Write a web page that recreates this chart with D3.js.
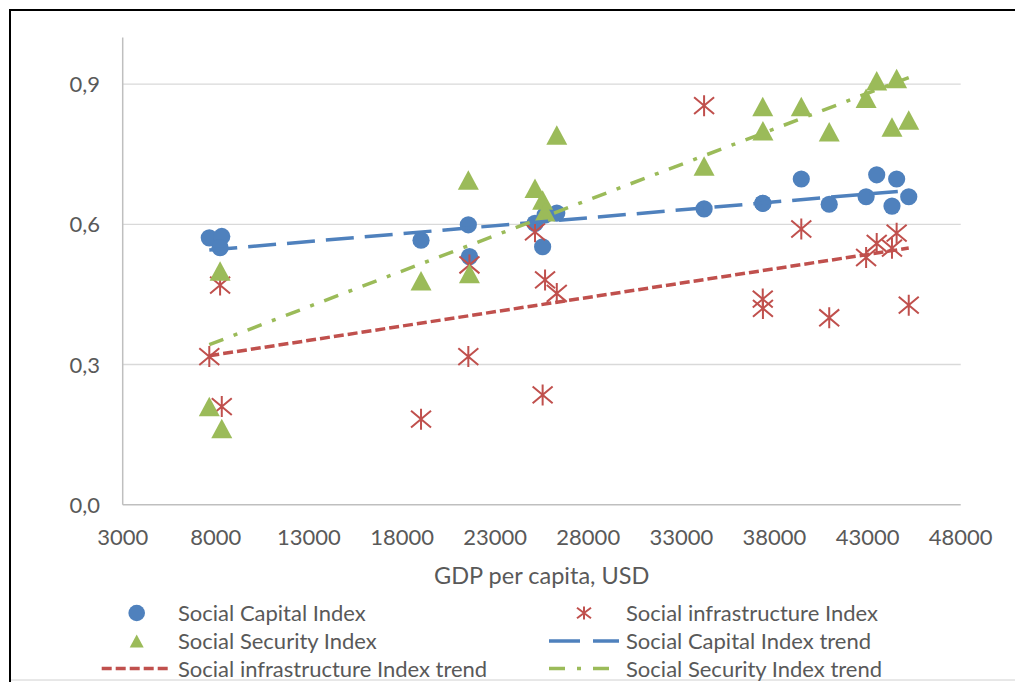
<!DOCTYPE html>
<html>
<head>
<meta charset="utf-8">
<script src="https://cdn.jsdelivr.net/npm/d3@7"></script>
<style>
  body { margin: 0; background: #fff; }
  text { font-family: Lato, "Open Sans", sans-serif; fill: #595959; }
</style>
</head>
<body>
<div id="chart"></div>
<script>
// GDP per capita of each country, and the three indices
var gdp      = [7650, 8320, 8230, 19020, 21560, 21620, 25140, 25550, 25680, 26310,
                34220, 37370, 37380, 39440, 40940, 42920, 43490, 44310, 44560, 45210];
var capital  = [0.571, 0.574, 0.550, 0.566, 0.599, 0.531, 0.602, 0.552, 0.620, 0.624,
                0.633, 0.645, 0.645, 0.697, 0.643, 0.659, 0.706, 0.639, 0.697, 0.659];
var infra    = [0.317, 0.210, 0.470, 0.183, 0.317, 0.513, 0.584, 0.235, 0.481, 0.452,
                0.854, 0.440, 0.420, 0.590, 0.400, 0.529, 0.559, 0.549, 0.581, 0.427];
var security = [0.210, 0.163, 0.500, 0.479, 0.695, 0.495, 0.677, 0.652, 0.627, 0.791,
                0.725, 0.852, 0.800, 0.852, 0.798, 0.870, 0.907, 0.808, 0.912, 0.823];

var xTicks = [3000, 8000, 13000, 18000, 23000, 28000, 33000, 38000, 43000, 48000];
var yTicks = [0, 0.3, 0.6, 0.9];
var xTitle = 'GDP per capita, USD';

var blue = '#4F81BD', red = '#C0504D', green = '#9BBB59';

var svg = d3.select('#chart').append('svg')
  .attr('width', 1015)
  .attr('height', 682);

// outer frame
svg.append('rect')
  .attr('x', 10).attr('y', 10)
  .attr('width', 1030).attr('height', 720)
  .attr('fill', 'none')
  .attr('stroke', '#000')
  .attr('stroke-width', 2);
svg.append('line')
  .attr('x1', 11).attr('x2', 1015)
  .attr('y1', 680).attr('y2', 680)
  .attr('stroke', '#d0d0d0');

var x = d3.scaleLinear().domain([3000, 48000]).range([122.7, 960.7]);
var y = d3.scaleLinear().domain([0, 1]).range([504.7, 37.4]);

// gridlines
svg.selectAll('line.grid').data(yTicks.slice(1))
  .enter().append('line')
  .attr('class', 'grid')
  .attr('x1', x(3000)).attr('x2', x(48000))
  .attr('y1', function (d) { return y(d); })
  .attr('y2', function (d) { return y(d); })
  .attr('stroke', '#D9D9D9')
  .attr('stroke-width', 1.3);

// axis lines
svg.append('line')
  .attr('x1', x(3000)).attr('x2', x(48000))
  .attr('y1', y(0)).attr('y2', y(0))
  .attr('stroke', '#BFBFBF').attr('stroke-width', 1.5);
svg.append('line')
  .attr('x1', x(3000)).attr('x2', x(3000))
  .attr('y1', y(0)).attr('y2', y(1))
  .attr('stroke', '#BFBFBF').attr('stroke-width', 1.5);

// tick labels
var fmtY = function (d) { return d3.format('.1f')(d).replace('.', ','); };
svg.selectAll('text.ytick').data(yTicks)
  .enter().append('text')
  .attr('class', 'ytick')
  .attr('x', 100)
  .attr('y', function (d) { return y(d) + 8; })
  .attr('text-anchor', 'end')
  .style('font-size', '22px')
  .text(fmtY);

svg.selectAll('text.xtick').data(xTicks)
  .enter().append('text')
  .attr('class', 'xtick')
  .attr('x', function (d) { return x(d); })
  .attr('y', 545)
  .attr('text-anchor', 'middle')
  .style('font-size', '22px')
  .text(function (d) { return d; });

svg.append('text')
  .attr('x', (x(3000) + x(48000)) / 2)
  .attr('y', 584)
  .attr('text-anchor', 'middle')
  .style('font-size', '23.5px')
  .text(xTitle);

// marker shapes
var star = function (w, h) {
  var a = w / 2, b = h / 2;
  return 'M0,' + (-b) + 'L0,' + b +
         'M' + (-a) + ',' + (-b * 0.8) + 'L' + a + ',' + (b * 0.8) +
         'M' + (-a) + ',' + (b * 0.8) + 'L' + a + ',' + (-b * 0.8);
};
var tri = function (w, h) {
  return 'M0,' + (-h / 2) + 'L' + (w / 2) + ',' + (h / 2) + 'L' + (-w / 2) + ',' + (h / 2) + 'Z';
};

var pts = gdp.map(function (g, i) {
  return { g: g, c: capital[i], f: infra[i], s: security[i] };
});

svg.selectAll('circle.cap').data(pts)
  .enter().append('circle')
  .attr('class', 'cap')
  .attr('cx', function (d) { return x(d.g); })
  .attr('cy', function (d) { return y(d.c); })
  .attr('r', 8.6)
  .attr('fill', blue);

svg.selectAll('path.inf').data(pts)
  .enter().append('path')
  .attr('class', 'inf')
  .attr('transform', function (d) { return 'translate(' + x(d.g) + ',' + y(d.f) + ')'; })
  .attr('d', star(20, 21))
  .attr('stroke', red)
  .attr('stroke-width', 2)
  .attr('fill', 'none');

svg.selectAll('path.sec').data(pts)
  .enter().append('path')
  .attr('class', 'sec')
  .attr('transform', function (d) { return 'translate(' + x(d.g) + ',' + y(d.s) + ')'; })
  .attr('d', tri(21, 19.5))
  .attr('fill', green);

// linear trend lines (least squares over the points)
var fit = function (vals) {
  var mx = d3.mean(gdp), my = d3.mean(vals);
  var sxy = d3.sum(gdp, function (g, i) { return (g - mx) * (vals[i] - my); });
  var sxx = d3.sum(gdp, function (g) { return (g - mx) * (g - mx); });
  var b = sxy / sxx, a = my - b * mx;
  var ext = d3.extent(gdp);
  return ext.map(function (g) { return [g, a + b * g]; });
};
var trendLine = d3.line()
  .x(function (d) { return x(d[0]); })
  .y(function (d) { return y(d[1]); });

var trends = [
  { vals: capital,  c: blue,  dash: '28,11' },
  { vals: infra,    c: red,   dash: '10,4' },
  { vals: security, c: green, dash: '15,11,4,11' }
];
svg.selectAll('path.trend').data(trends)
  .enter().append('path')
  .attr('class', 'trend')
  .attr('d', function (d) { return trendLine(fit(d.vals)); })
  .attr('stroke', function (d) { return d.c; })
  .attr('stroke-width', 3.5)
  .attr('stroke-dasharray', function (d) { return d.dash; })
  .attr('fill', 'none');

// legend
var legend = [
  { label: 'Social Capital Index',               kind: 'circle', c: blue,  lx: 136.7, ly: 613 },
  { label: 'Social infrastructure Index',        kind: 'star',   c: red,   lx: 584,   ly: 613 },
  { label: 'Social Security Index',              kind: 'tri',    c: green, lx: 136.7, ly: 641 },
  { label: 'Social Capital Index trend',         kind: 'line',   c: blue,  lx: 584,   ly: 641, dash: '31,13' },
  { label: 'Social infrastructure Index trend',  kind: 'line',   c: red,   lx: 136.7, ly: 668.5, dash: '10,4' },
  { label: 'Social Security Index trend',        kind: 'line',   c: green, lx: 584,   ly: 668.5, dash: '16,12,4,12' }
];

var items = svg.selectAll('g.leg').data(legend)
  .enter().append('g')
  .attr('class', 'leg')
  .attr('transform', function (d) { return 'translate(' + d.lx + ',' + d.ly + ')'; });

items.filter(function (d) { return d.kind === 'circle'; })
  .append('circle').attr('r', 8.3).attr('fill', function (d) { return d.c; });
items.filter(function (d) { return d.kind === 'tri'; })
  .append('path').attr('d', tri(14, 13)).attr('fill', function (d) { return d.c; });
items.filter(function (d) { return d.kind === 'star'; })
  .append('path').attr('d', star(14, 13)).attr('stroke', function (d) { return d.c; })
  .attr('stroke-width', 2).attr('fill', 'none');
items.filter(function (d) { return d.kind === 'line'; })
  .append('line')
  .attr('x1', -35).attr('x2', 35)
  .attr('stroke', function (d) { return d.c; })
  .attr('stroke-width', 3.5)
  .attr('stroke-dasharray', function (d) { return d.dash; });

items.append('text')
  .attr('x', function (d) { return d.lx < 300 ? 178 - d.lx : 626 - d.lx; })
  .attr('y', 8)
  .style('font-size', '22px')
  .text(function (d) { return d.label; });
</script>
</body>
</html>
